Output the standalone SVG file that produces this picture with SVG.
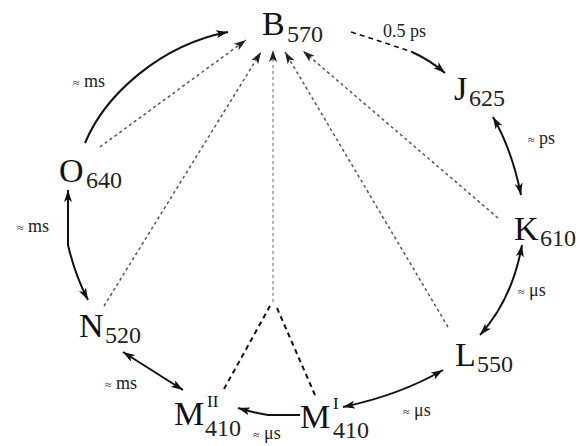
<svg xmlns="http://www.w3.org/2000/svg" width="580" height="446" viewBox="0 0 580 446">
<style>
.cap{font-family:"Liberation Serif",serif;font-size:34px;fill:#111}
.sub{font-family:"Liberation Serif",serif;font-size:24px;fill:#222}
.sup{font-family:"Liberation Serif",serif;font-size:17px;fill:#111}
.lbl{font-family:"Liberation Serif",serif;font-size:18px;fill:#222}
.ap{font-size:12px}
.solid{fill:none;stroke:#111;stroke-width:2}
.dot{fill:none;stroke:#555;stroke-width:1.5;stroke-dasharray:3 3}
.dash{fill:none;stroke:#111;stroke-width:2;stroke-dasharray:5 4}
</style>
<defs>
<marker id="ah" viewBox="0 0 12 8" refX="12" refY="4" markerWidth="12" markerHeight="8" markerUnits="userSpaceOnUse" orient="auto-start-reverse">
<path d="M0,0 L12,4 L0,8 L3,4 Z" fill="#111"/>
</marker>
<marker id="ahg" viewBox="0 0 12 8" refX="12" refY="4" markerWidth="12" markerHeight="8" markerUnits="userSpaceOnUse" orient="auto">
<path d="M0,0 L12,4 L0,8 L3,4 Z" fill="#222"/>
</marker>
</defs>
<g id="connectors">
<path class="dot" d="M100,147 L246,40" marker-end="url(#ahg)"/>
<path class="dot" d="M104,306 L261,52" marker-end="url(#ahg)"/>
<path class="dot" d="M273,302 L273,50" marker-end="url(#ahg)" style="stroke:#999"/>
<path class="dot" d="M448,327 L285,52" marker-end="url(#ahg)"/>
<path class="dot" d="M498,218 L303,51" marker-end="url(#ahg)"/>
<path class="dash" d="M224,389 L270,306"/>
<path class="dash" d="M277,308 L315,395"/>
<path class="solid" d="M85,143 C105,95 160,45 228,32" marker-end="url(#ah)"/>
<path class="dash" d="M351,32 Q383,42 412,52" style="stroke-width:1.6"/>
<path class="solid" d="M412,52 Q430,60 445,73" marker-end="url(#ah)"/>
<path class="solid" d="M493,117 Q512,150 521,195" marker-start="url(#ah)" marker-end="url(#ah)"/>
<path class="solid" d="M522,245 Q512,300 480,335" marker-start="url(#ah)" marker-end="url(#ah)"/>
<path class="solid" d="M443,370 Q400,395 343,407" marker-start="url(#ah)" marker-end="url(#ah)"/>
<path class="solid" d="M300,415 L268,415 Q255,413 238,408" marker-end="url(#ah)"/>
<path class="solid" d="M123,352 L183,390" marker-start="url(#ah)" marker-end="url(#ah)"/>
<path class="solid" d="M68,190 L68,245 Q75,275 88,300" marker-start="url(#ah)" marker-end="url(#ah)"/>
</g>
<g id="B"><text class="cap" x="262" y="35">B</text><text class="sub" x="287" y="42">570</text></g>
<g id="J"><text class="cap" x="454" y="100">J</text><text class="sub" x="469" y="106">625</text></g>
<g id="K"><text class="cap" x="514" y="240">K</text><text class="sub" x="540" y="246">610</text></g>
<g id="L"><text class="cap" x="455" y="366">L</text><text class="sub" x="477" y="372">550</text></g>
<g id="O"><text class="cap" x="59" y="182">O</text><text class="sub" x="86" y="188">640</text></g>
<g id="N"><text class="cap" x="79" y="337">N</text><text class="sub" x="105" y="343">520</text></g>
<g id="MII"><text class="cap" x="174" y="425">M</text><text class="sup" x="207" y="407">II</text><text class="sub" x="205" y="436">410</text></g>
<g id="MI"><text class="cap" x="300" y="428">M</text><text class="sup" x="333" y="409">I</text><text class="sub" x="333" y="438">410</text></g>
<g id="labels">
<text class="lbl" x="383" y="37">0.5 ps</text>
<text class="lbl" x="528" y="144"><tspan class="ap">≈</tspan> ps</text>
<text class="lbl" x="73" y="87"><tspan class="ap">≈</tspan> ms</text>
<text class="lbl" x="17" y="232"><tspan class="ap">≈</tspan> ms</text>
<text class="lbl" x="105" y="389"><tspan class="ap">≈</tspan> ms</text>
<text class="lbl" x="518" y="296"><tspan class="ap">≈</tspan> μs</text>
<text class="lbl" x="253" y="439"><tspan class="ap">≈</tspan> μs</text>
<text class="lbl" x="403" y="416"><tspan class="ap">≈</tspan> μs</text>
</g>
</svg>
